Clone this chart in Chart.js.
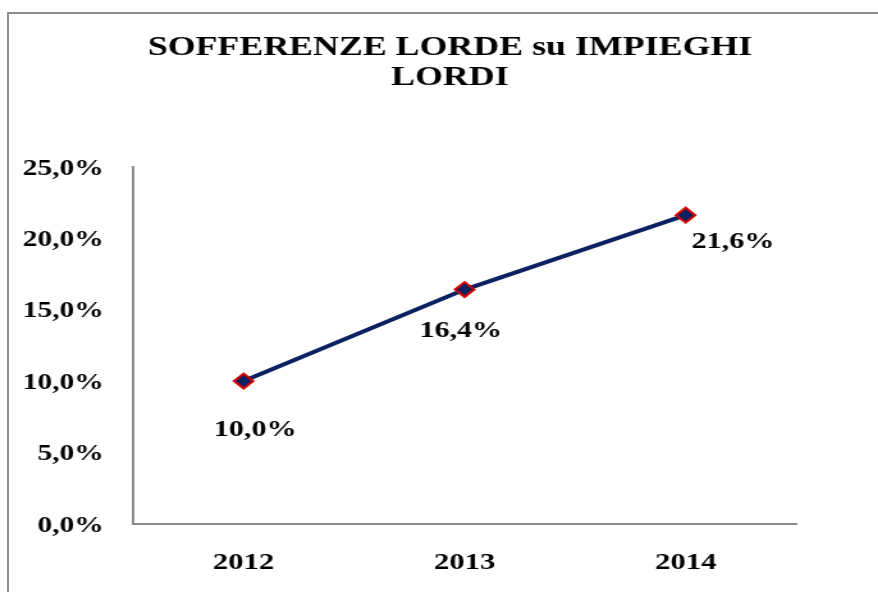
<!DOCTYPE html>
<html>
<head>
<meta charset="utf-8">
<script src="https://cdn.jsdelivr.net/npm/chart.js@4/dist/chart.umd.min.js"></script>
<style>
  html, body { margin: 0; padding: 0; overflow: hidden; background: #fff; }
  #frame { position: absolute; left: 7px; top: 12px; width: 900px; height: 620px;
           border-left: 2px solid #8c8c8c; border-top: 2px solid #8c8c8c; }
  /* the original picture is stretched sideways, so the chart is too */
  #wrap { position: absolute; left: 0; top: 0; width: 686px; height: 592px;
          transform: scaleX(1.28); transform-origin: 0 0; }
</style>
</head>
<body>
<div id="frame"></div>
<div id="wrap"><canvas id="chart"></canvas></div>
<script>
'use strict';

let years = ['2012', '2013', '2014'];
let ratioValues = [10.0, 16.4, 21.6];
let yTicks = [0, 5, 10, 15, 20, 25];
let titleLines = ['SOFFERENZE LORDE su IMPIEGHI', 'LORDI'];

let serif = '"Liberation Serif", "Times New Roman", serif';

function fmt(v) {
  return v.toFixed(1).replace('.', ',') + '%';
}

// per-point offsets of the value labels (like the Excel placement)
let labelOffsets = [[9, 49], [-3, 41], [37, 27]];

let valueLabels = {
  id: 'valueLabels',
  afterLayout(chart) {
    // title sits a bit right of the canvas centre in the original
    if (chart.titleBlock) {
      chart.titleBlock.left += 32;
      chart.titleBlock.right += 32;
    }
  },
  afterDatasetsDraw(chart) {
    let ctx = chart.ctx;
    let meta = chart.getDatasetMeta(0);
    ctx.save();
    ctx.font = 'bold 23.5px ' + serif;
    ctx.fillStyle = '#000';
    ctx.textAlign = 'center';
    ctx.textBaseline = 'middle';
    meta.data.forEach(function (pt, i) {
      ctx.fillText(fmt(ratioValues[i]), pt.x + labelOffsets[i][0], pt.y + labelOffsets[i][1]);
    });
    ctx.restore();
  }
};

let ctx = document.getElementById('chart').getContext('2d');
// eslint-disable-next-line no-unused-vars
let chart = new Chart(ctx, {
  type: 'line',
  data: {
    labels: years,
    datasets: [{
      data: ratioValues,
      borderColor: '#0b2161',
      borderWidth: 4,
      pointStyle: 'rectRot',
      pointRadius: 7.5,
      pointHoverRadius: 7.5,
      pointBackgroundColor: '#0b2161',
      pointBorderColor: '#d40000',
      pointBorderWidth: 2,
      tension: 0
    }]
  },
  options: {
    responsive: true,
    maintainAspectRatio: false,
    animation: false,
    devicePixelRatio: 1,
    layout: { padding: { left: 17, right: 64, top: 0, bottom: 0 } },
    plugins: {
      legend: { display: false },
      tooltip: { enabled: false },
      title: {
        display: true,
        text: titleLines,
        color: '#000',
        font: { family: serif, size: 28, weight: 'bold', lineHeight: 1.1 },
        padding: { top: 32, bottom: 73 }
      }
    },
    scales: {
      x: {
        offset: true,
        grid: { display: false, drawTicks: false },
        border: { display: true, color: '#8c8c8c', width: 2 },
        ticks: {
          color: '#000',
          padding: 24,
          font: { family: serif, size: 24, weight: 'bold' }
        },
        afterFit(scale) { scale.height = 68; }
      },
      y: {
        min: 0,
        max: 25,
        grid: { display: false, drawTicks: false },
        border: { display: true, color: '#8c8c8c', width: 2 },
        afterBuildTicks(scale) {
          scale.ticks = yTicks.map(function (v) { return { value: v }; });
        },
        ticks: {
          color: '#000',
          padding: 23,
          labelOffset: 2,
          callback: function (v) { return fmt(v); },
          font: { family: serif, size: 23, weight: 'bold' }
        },
        afterFit(scale) { scale.width = 87; }
      }
    }
  },
  plugins: [valueLabels]
});
</script>
</body>
</html>
